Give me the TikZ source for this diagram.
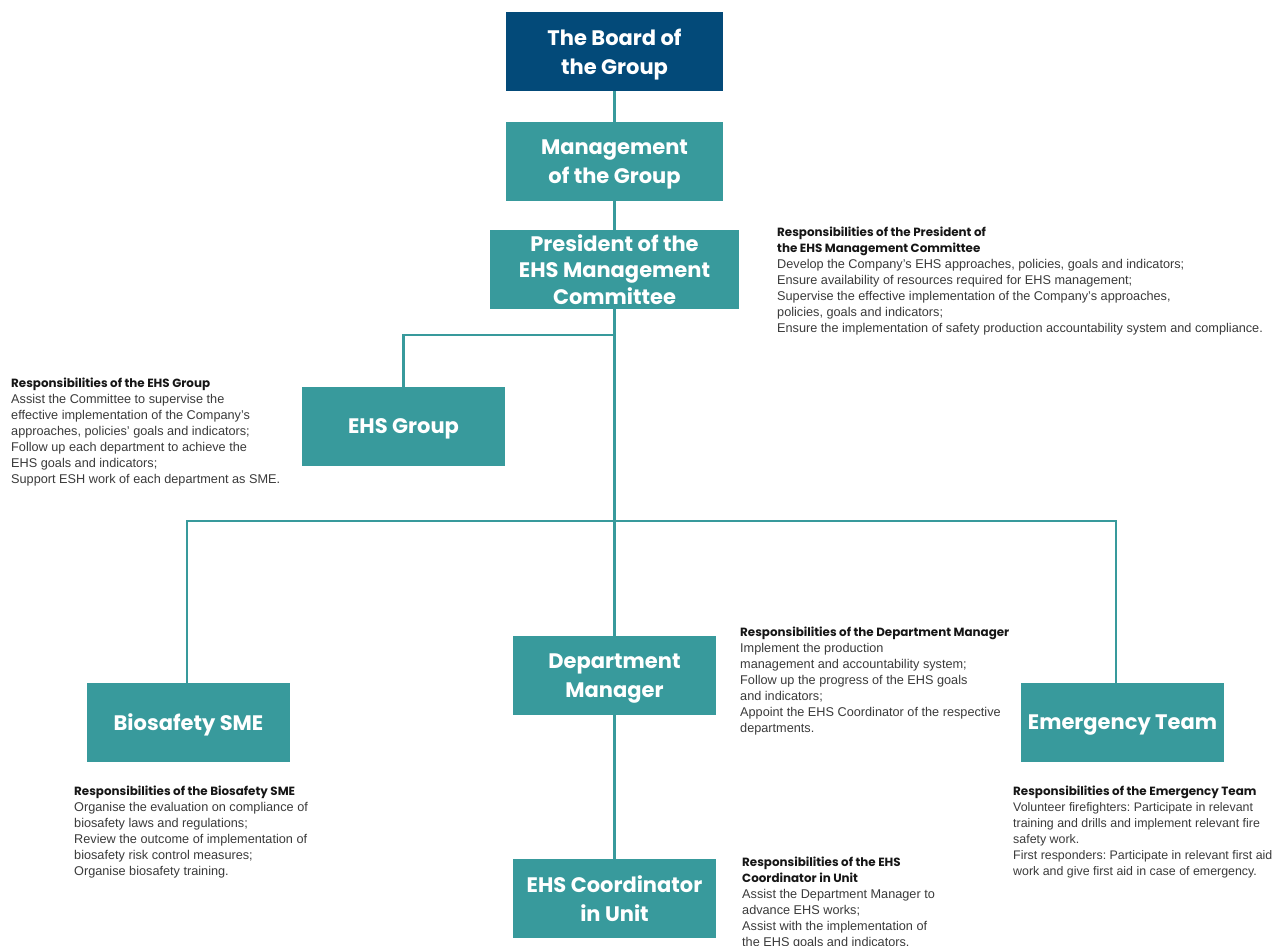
\documentclass[tikz,border=0pt]{standalone}
\usepackage{fontspec}
\setmainfont{Liberation Sans}
\newfontfamily\boxfont{Poppins}
\newfontfamily\headfont{Poppins}
\frenchspacing
\definecolor{boardblue}{HTML}{034A79}
\definecolor{teal}{HTML}{389A9C}
\definecolor{bodygrey}{HTML}{3A3A3A}
\definecolor{headblack}{HTML}{161616}
\newcommand{\hd}[1]{{\headfont\bfseries\color{headblack}\fontsize{11.9}{16}\selectfont #1}}
\tikzset{
  orgbox/.style={rectangle, fill=teal, text=white, inner sep=0pt,
    minimum width=203pt, minimum height=79pt, align=center, text depth=0pt,
    font=\boxfont\bfseries\fontsize{21}{29}\selectfont},
  conn/.style={draw=teal, line width=2.5pt},
  resp/.style={anchor=north west, inner sep=0pt, align=left, text=bodygrey,
    font=\fontsize{12.7}{16}\selectfont}
}
\begin{document}
\begin{tikzpicture}[x=1pt, y=-1pt]
\useasboundingbox (0,0) rectangle (1279,945);
\clip (0,0) rectangle (1279,945);

% chain of command down the centre
\node[orgbox, fill=boardblue, minimum width=217pt] (board) at (614.5,51.5) {The Board of\\the Group};
\node[orgbox, minimum width=217pt] (mgmt) at (614.5,161.5) {Management\\of the Group};
\node[orgbox, minimum width=249pt, font=\boxfont\bfseries\fontsize{21}{26.5}\selectfont] (pres) at (614.5,269.5) {President of the\\EHS Management\\Committee};
\node[orgbox] (ehs) at (403.5,426.5) {EHS Group};
\node[orgbox] (dept) at (614.5,675.5) {Department\\Manager};
\node[orgbox] (bio) at (188.5,722.5) {Biosafety SME};
\node[orgbox] (emg) at (1122.5,722.5) {Emergency Team};
\node[orgbox] (coord) at (614.5,898.5) {EHS Coordinator\\in Unit};

% junction points
\coordinate (jE) at (614.5,335);
\coordinate (jL) at (187,521);
\coordinate (jR) at (1116,521);

% connectors
\draw[conn] (board) -- (mgmt);
\draw[conn] (mgmt) -- (pres);
\draw[conn] (pres) -- (dept);
\draw[conn] (dept) -- (coord);
\draw[conn] (jE) -| (ehs.north);
\draw[conn] (bio.north -| jL) -- (jL) -- (jR) -- (emg.north -| jR);

% responsibilities
\node[resp] (tpres) at (777,227) {\hd{Responsibilities of the President of}\\
\hd{the EHS Management Committee}\\
Develop the Company’s EHS approaches, policies, goals and indicators;\\
Ensure availability of resources required for EHS management;\\
Supervise the effective implementation of the Company’s approaches,\\
policies, goals and indicators;\\
Ensure the implementation of safety production accountability system and compliance.};

\node[resp] (tehs) at (11,378) {\hd{Responsibilities of the EHS Group}\\
Assist the Committee to supervise the\\
effective implementation of the Company’s\\
approaches, policies’ goals and indicators;\\
Follow up each department to achieve the\\
EHS goals and indicators;\\
Support ESH work of each department as SME.};

\node[resp] (tdept) at (740,627) {\hd{Responsibilities of the Department Manager}\\
Implement the production\\
management and accountability system;\\
Follow up the progress of the EHS goals\\
and indicators;\\
Appoint the EHS Coordinator of the respective\\
departments.};

\node[resp] (tbio) at (74,786) {\hd{Responsibilities of the Biosafety SME}\\
Organise the evaluation on compliance of\\
biosafety laws and regulations;\\
Review the outcome of implementation of\\
biosafety risk control measures;\\
Organise biosafety training.};

\node[resp, font=\fontsize{12.4}{16}\selectfont] (temg) at (1013,786) {\hd{Responsibilities of the Emergency Team}\\
Volunteer firefighters: Participate in relevant\\
training and drills and implement relevant fire\\
safety work.\\
First responders: Participate in relevant first aid\\
work and give first aid in case of emergency.};

\node[resp] (tcoord) at (742,857) {\hd{Responsibilities of the EHS}\\
\hd{Coordinator in Unit}\\
Assist the Department Manager to\\
advance EHS works;\\
Assist with the implementation of\\
the EHS goals and indicators.};
\end{tikzpicture}
\end{document}
